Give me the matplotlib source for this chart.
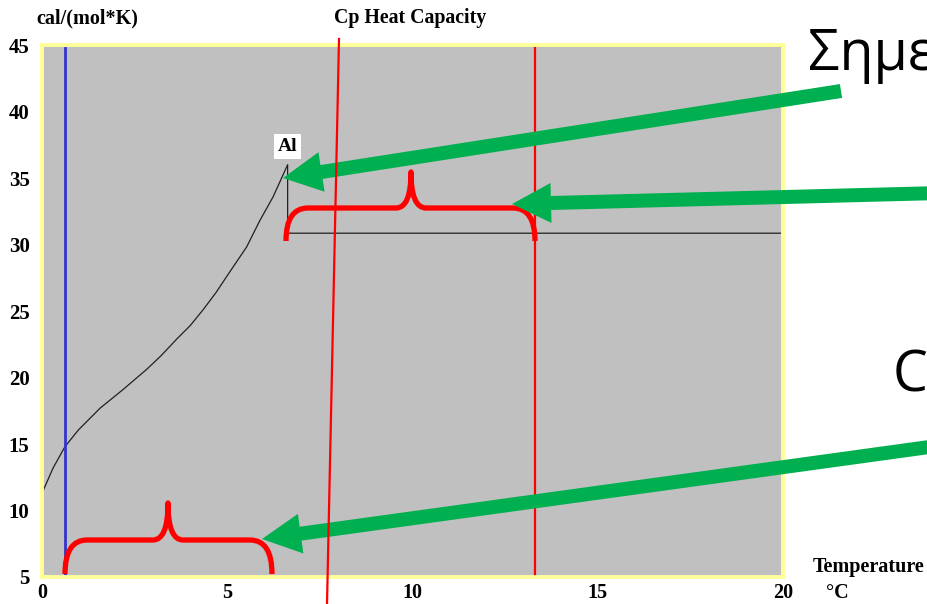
import numpy as np
import matplotlib
matplotlib.use("Agg")
import matplotlib.pyplot as plt
from matplotlib.path import Path
from matplotlib.patches import PathPatch, Polygon

# ---- data ----
temp = [0, 0.30, 0.62, 0.98, 1.57, 2.19, 2.82, 3.20, 3.64, 4.00, 4.35, 4.70, 5.07, 5.52, 5.88, 6.24, 6.63]
cp = [11.3, 13.2, 14.8, 16.05, 17.7, 19.1, 20.6, 21.6, 22.9, 23.9, 25.1, 26.4, 27.95, 29.8, 31.8, 33.6, 36.0]
drop_temp = [6.63, 20]
drop_cp = [30.85, 30.85]
blue_x = 0.62
red_x = 13.3
xticks = [0, 5, 10, 15, 20]
yticks = [5, 10, 15, 20, 25, 30, 35, 40, 45]
label_text = "Al"

W, H = 927, 604
fig = plt.figure(figsize=(W / 100, H / 100), dpi=100)
L, R, T, B = 42, 783, 45, 577
ax = fig.add_axes([L / W, 1 - B / H, (R - L) / W, (B - T) / H])
ax.set_facecolor("#c0c0c0")
ax.set_xlim(0, 20)
ax.set_ylim(5, 45)
for s in ax.spines.values():
    s.set_color("#ffff99")
    s.set_linewidth(2.8)

serif = ["Liberation Serif", "DejaVu Serif"]
ax.set_xticks(xticks)
ax.set_yticks(yticks)
ax.tick_params(length=0, labelsize=15)
ax.tick_params(axis="y", pad=9)
ax.tick_params(axis="x", pad=4.5, labelsize=14.5)
for lab in ax.get_xticklabels() + ax.get_yticklabels():
    lab.set_fontfamily(serif)
    lab.set_fontweight("bold")

ax.plot(temp + drop_temp, cp + drop_cp, color="#202020", lw=0.9)
ax.axvline(blue_x, ymin=0, ymax=0.995, color="#3333cc", lw=2)
ax.axvline(red_x, ymin=0, ymax=0.995, color="#ff0000", lw=1.6)
ax.annotate(label_text, (temp[-1], cp[-1]), xytext=(0, 18), textcoords="offset pixels",
            ha="center", va="center", fontsize=14, fontweight="bold", family=serif,
            bbox=dict(boxstyle="square,pad=0.2", fc="white", ec="none"))

# texts
fig.text(36 / W, 1 - 18 / H, "cal/(mol*K)", ha="left", va="center", fontsize=14.5,
         fontweight="bold", family=serif)
fig.text(410 / W, 1 - 18 / H, "Cp Heat Capacity", ha="center", va="center", fontsize=14.3,
         fontweight="bold", family=serif)
fig.text(813 / W, 1 - 567 / H, "Temperature", ha="left", va="center", fontsize=14.5,
         fontweight="bold", family=serif)
fig.text(826 / W, 1 - 593 / H, "°C", ha="left", va="center", fontsize=14.5,
         fontweight="bold", family=serif)

# overlay in pixel coordinates
ov = fig.add_axes([0, 0, 1, 1], zorder=10)
ov.set_xlim(0, W)
ov.set_ylim(H, 0)
ov.axis("off")
ov.patch.set_alpha(0)

sans = ["Open Sans", "DejaVu Sans"]
ov.text(808, 70, "Σημε", ha="left", va="baseline", fontsize=40, family=sans, clip_on=False)
ov.text(893, 392, "C", ha="left", va="baseline", fontsize=40, family=sans, clip_on=False)


def brace(x0, x1, xm, ybot, yh, ytip, r=22, w=15):
    verts = [(x0, ybot), (x0, yh), (x0 + r, yh), (xm - w, yh), (xm, yh), (xm, ytip),
             (xm, yh), (xm + w, yh), (x1 - r, yh), (x1, yh), (x1, ybot)]
    codes = [Path.MOVETO, Path.CURVE3, Path.CURVE3, Path.LINETO, Path.CURVE3, Path.CURVE3,
             Path.CURVE3, Path.CURVE3, Path.LINETO, Path.CURVE3, Path.CURVE3]
    ov.add_patch(PathPatch(Path(verts, codes), fill=False, ec="#ff0000", lw=3.8,
                           capstyle="butt", joinstyle="round"))


brace(65, 272, 168, 574, 540, 503)
brace(286, 535, 411, 241, 208, 172)


def arrow(tail, tip, sw=14, hl=39, hw=20):
    tail = np.array(tail, float)
    tip = np.array(tip, float)
    d = tip - tail
    d /= np.hypot(*d)
    n = np.array([-d[1], d[0]])
    base = tip - d * hl
    pts = [tail + n * sw / 2, base + n * sw / 2, base + n * hw, tip,
           base - n * hw, base - n * sw / 2, tail - n * sw / 2]
    ov.add_patch(Polygon(pts, closed=True, fc="#00b050", ec="none"))


arrow((841, 91), (283, 178))
arrow((980, 192), (512, 204))
arrow((980, 440), (262, 539))

# slanted red line
ov.plot([339, 327], [39, 604], color="#ff0000", lw=1.6, clip_on=False)

fig.savefig("out.png", dpi=100)
